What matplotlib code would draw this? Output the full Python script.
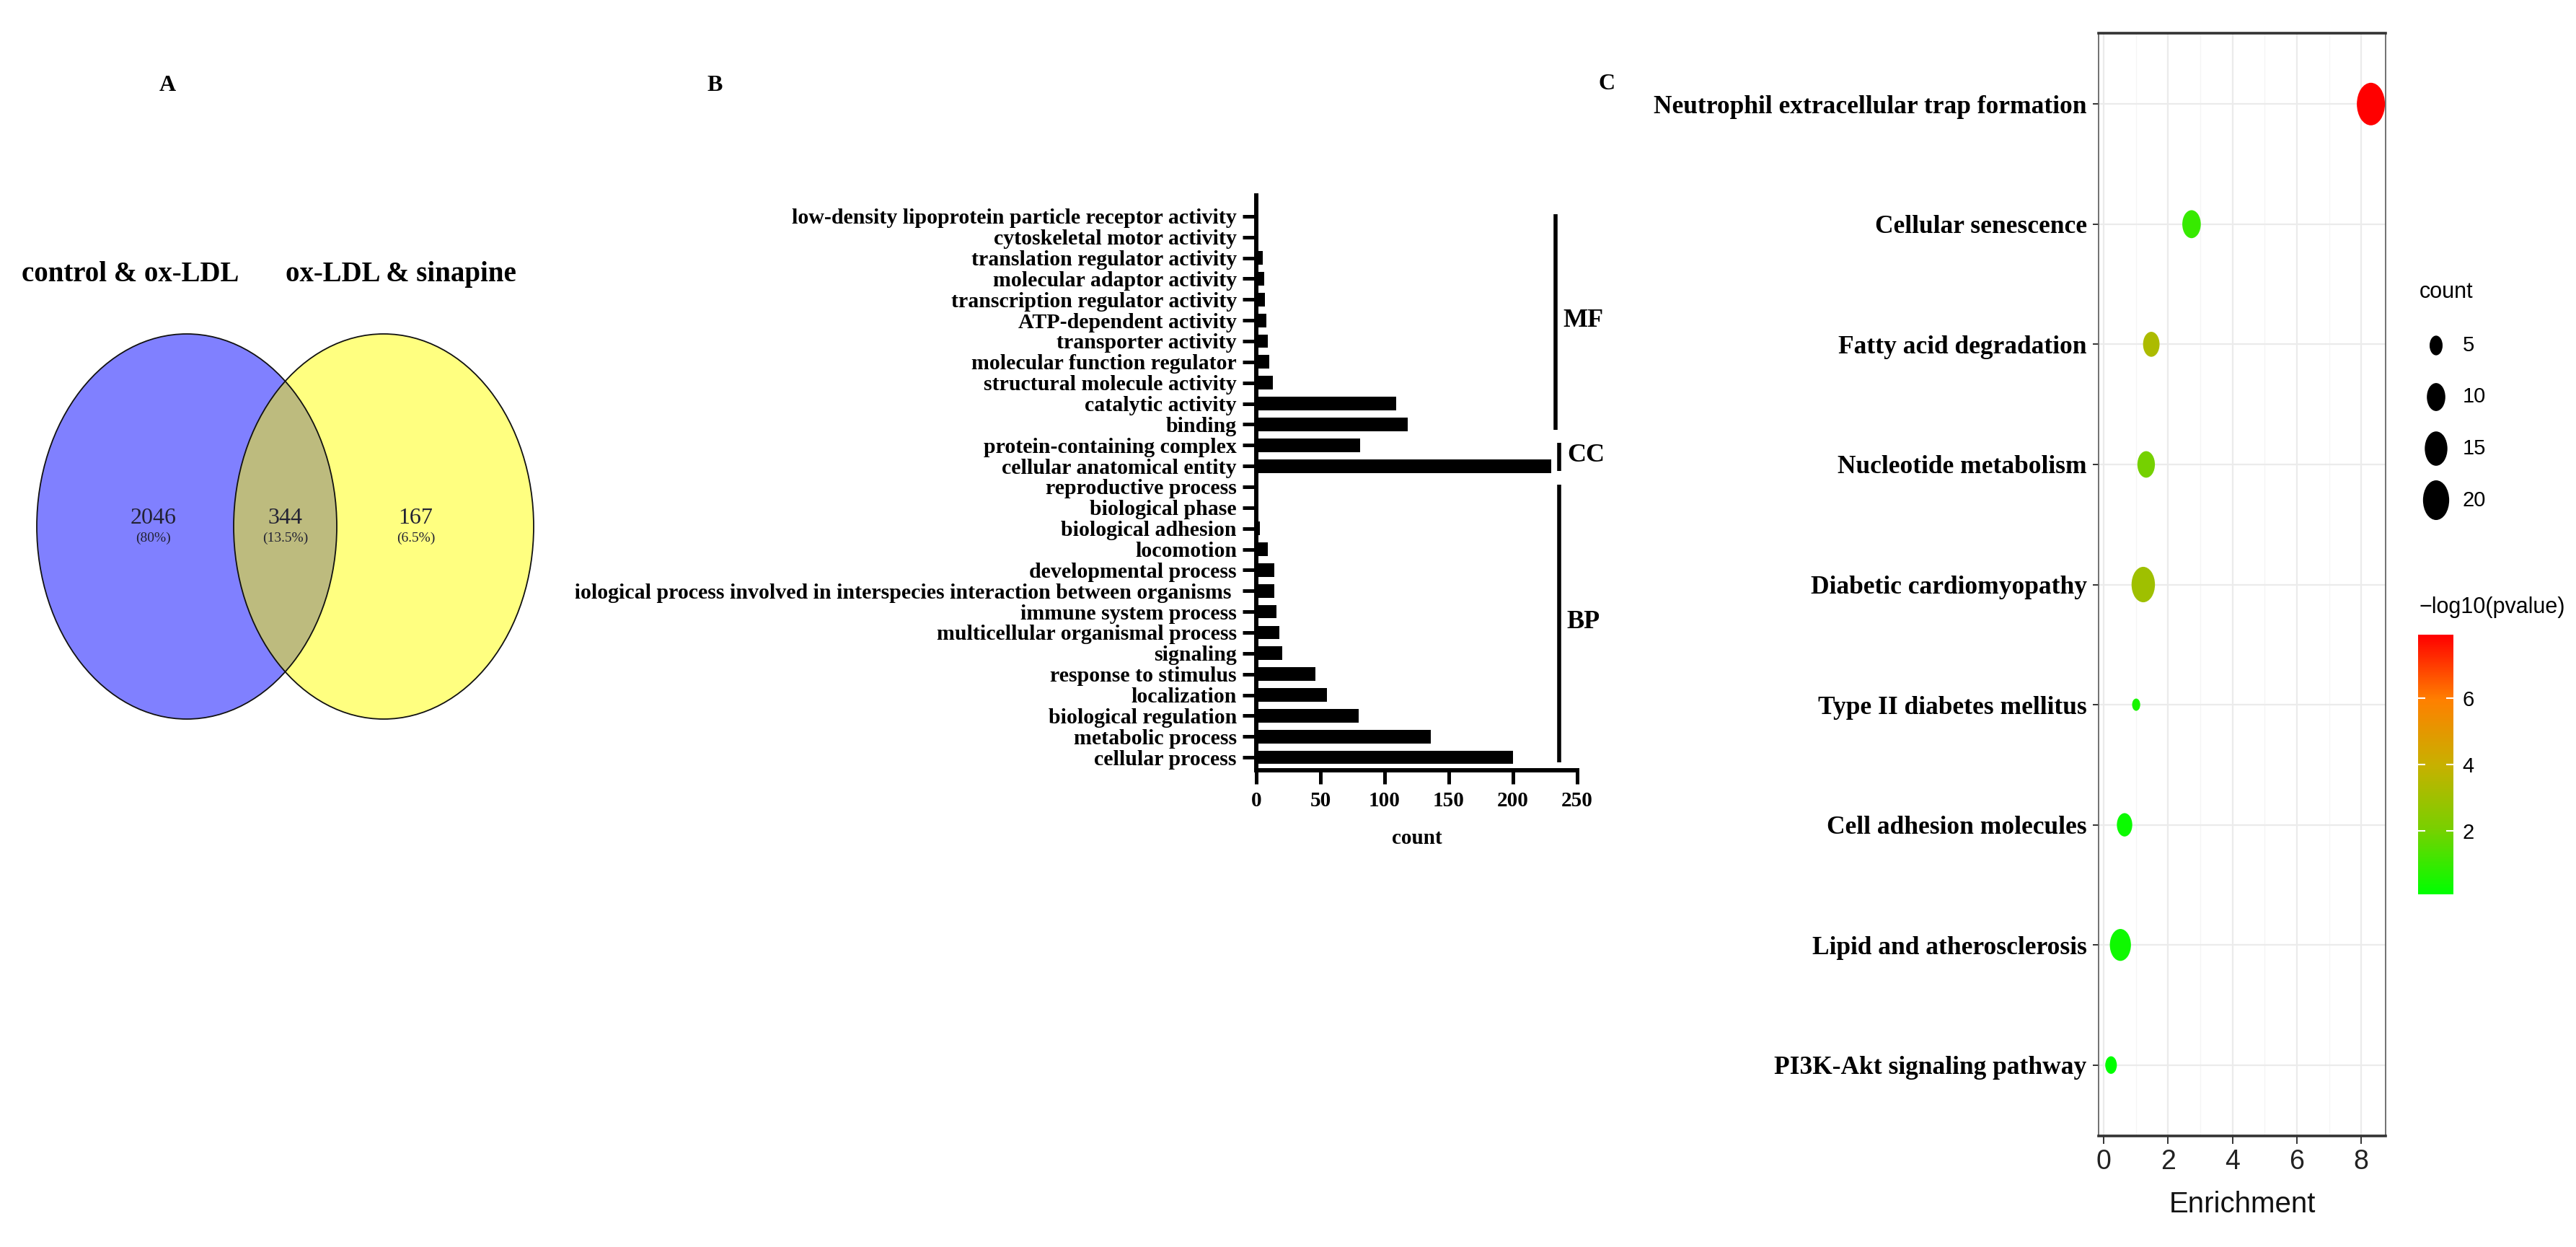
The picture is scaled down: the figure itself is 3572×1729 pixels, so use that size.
import numpy as np
import matplotlib
matplotlib.use("Agg")
import matplotlib.pyplot as plt
from matplotlib.patches import Ellipse
from matplotlib.path import Path
from matplotlib.colors import LinearSegmentedColormap, Normalize
from matplotlib.cm import ScalarMappable
from matplotlib.transforms import Bbox

# ---------------- data ----------------
venn_sets = ["control & ox-LDL", "ox-LDL & sinapine"]
venn_counts = [2046, 344, 167]  # left only, shared, right only

go_terms = [
    "low-density lipoprotein particle receptor activity",
    "cytoskeletal motor activity",
    "translation regulator activity",
    "molecular adaptor activity",
    "transcription regulator activity",
    "ATP-dependent activity",
    "transporter activity",
    "molecular function regulator",
    "structural molecule activity",
    "catalytic activity",
    "binding",
    "protein-containing complex",
    "cellular anatomical entity",
    "reproductive process",
    "biological phase",
    "biological adhesion",
    "locomotion",
    "developmental process",
    "biological process involved in interspecies interaction between organisms ",
    "immune system process",
    "multicellular organismal process",
    "signaling",
    "response to stimulus",
    "localization",
    "biological regulation",
    "metabolic process",
    "cellular process",
]
go_counts = [1, 1, 5, 6, 7, 8, 9, 10, 13, 109, 118, 81, 230,
             1, 1, 3, 9, 14, 14, 16, 18, 20, 46, 55, 80, 136, 200]
go_groups = ["MF"] * 11 + ["CC"] * 2 + ["BP"] * 14

kegg_terms = [
    "Neutrophil extracellular trap formation",
    "Cellular senescence",
    "Fatty acid degradation",
    "Nucleotide metabolism",
    "Diabetic cardiomyopathy",
    "Type II diabetes mellitus",
    "Cell adhesion molecules",
    "Lipid and atherosclerosis",
    "PI3K-Akt signaling pathway",
]
kegg_enrich = [8.3, 2.73, 1.48, 1.32, 1.23, 1.01, 0.65, 0.52, 0.23]
kegg_count = [23, 10, 8, 9, 16, 2, 7, 13, 4]
kegg_logp = [7.9, 1.0, 3.3, 2.0, 3.0, 0.5, 0.3, 0.35, 0.09]
legend_counts = [5, 10, 15, 20]

# ---------------- figure ----------------
W, H = 3573, 1729
fig = plt.figure(figsize=(W / 100, H / 100), dpi=100)
plt.rcParams["font.family"] = "Liberation Serif"
sans = ["Liberation Sans Narrow", "Liberation Sans", "DejaVu Sans"]

def fx(x):
    return x / W

def fy(y):
    return 1 - y / H

# overlay axes in pixel units for Venn, panel letters and legend
ax0 = fig.add_axes([0, 0, 1, 1], zorder=-1)
ax0.set_xlim(0, W)
ax0.set_ylim(H, 0)
ax0.axis("off")

for letter, x, y in [("A", 232, 118), ("B", 991, 118), ("C", 2228, 116)]:
    ax0.text(x, y, letter, fontsize=23, fontweight="bold", ha="center", va="center")

# ---------------- A: Venn ----------------
cy, ew, eh = 730, 416, 534
left_c, right_c = 259, 532
e_left = Ellipse((left_c, cy), ew, eh, facecolor="#8080FF", edgecolor="none")
e_right = Ellipse((right_c, cy), ew, eh, facecolor="#FFFF80", edgecolor="none")
ax0.add_patch(e_left)
ax0.add_patch(e_right)
e_mid = Ellipse((right_c, cy), ew, eh, facecolor="#BDBB7E", edgecolor="none")
ax0.add_patch(e_mid)
e_mid.set_clip_path(e_left)
for c in (left_c, right_c):
    ax0.add_patch(Ellipse((c, cy), ew, eh, facecolor="none", edgecolor="#111111", lw=1.3))

total = sum(venn_counts)
ov_l, ov_r = right_c - ew / 2, left_c + ew / 2
num_x = [(left_c - ew / 2 + ov_l) / 2 + 25, (ov_l + ov_r) / 2, (ov_r + right_c + ew / 2) / 2 - 27]
for x, n in zip(num_x, venn_counts):
    pct = f"{100 * n / total:.1f}".rstrip("0").rstrip(".")
    ax0.text(x, cy - 12, str(n), fontsize=23, ha="center", va="center", color="#222233")
    ax0.text(x, cy + 16, f"({pct}%)", fontsize=14, ha="center", va="center", color="#222233")
for x, name in zip([181, 556], venn_sets):
    ax0.text(x, 380, name, fontsize=28, fontweight="bold", ha="center", va="center")

# ---------------- B: GO bar chart ----------------
axb = fig.add_axes([fx(1742), fy(1068), 445 / W, 797 / H])
pos = np.arange(len(go_terms))
axb.barh(pos, go_counts, height=0.65, color="black")
axb.set_xlim(0, 250)
axb.set_ylim(len(go_terms) - 0.38, -1.0)
axb.set_xticks([0, 50, 100, 150, 200, 250])
axb.set_yticks(pos)
axb.set_yticklabels(go_terms, fontsize=21.5, fontweight="bold")
for lab in axb.get_xticklabels():
    lab.set_fontweight("bold")
# the panel is cut at its left edge, so the longest label is clipped there
clip = Bbox.from_extents(798, 0, W, H)
for lab in axb.get_yticklabels():
    lab.set_clip_box(clip)
    lab.set_clip_on(True)
axb.tick_params(axis="y", length=13.5, width=3.6, pad=6)
axb.tick_params(axis="x", length=14, width=3.6, pad=7, labelsize=21)
axb.spines[["top", "right"]].set_visible(False)
axb.spines[["left", "bottom"]].set_linewidth(4.3)
axb.set_xlabel("count", fontsize=21, fontweight="bold", labelpad=18)

groups = ["MF", "CC", "BP"]
for g in groups:
    idx = [i for i, gg in enumerate(go_groups) if gg == g]
    xl = 233 if g == "MF" else 236
    axb.plot([xl, xl], [idx[0] - 0.1, idx[-1] + 0.25], color="black", lw=4,
             clip_on=False, solid_capstyle="butt")
    axb.text(xl + 6, np.mean(idx), g, fontsize=26, fontweight="bold",
             ha="left", va="center", clip_on=False)

# ---------------- C: KEGG dot plot ----------------
axd = fig.add_axes([fx(2910), fy(1575), 398 / W, 1529 / H])
n = len(kegg_terms)
ypos = np.arange(n)[::-1] + 1

cmin, cmax = min(kegg_count), max(kegg_count)
d_min, d_max = 17, 59  # pixel diameters of smallest / largest dot

def dot_size(c):
    d = np.sqrt(d_min ** 2 + (np.asarray(c) - cmin) / (cmax - cmin) * (d_max ** 2 - d_min ** 2))
    return (d * 0.72) ** 2

circ = Path.unit_circle()
oval = Path(circ.vertices * np.array([0.66, 1.0]), circ.codes)

cmap = LinearSegmentedColormap.from_list(
    "", ["#00FF00", "#78D000", "#C8B000", "#FF8000", "#FF0000"])
norm = Normalize(min(kegg_logp), max(kegg_logp))

axd.scatter(kegg_enrich, ypos, s=dot_size(kegg_count), c=kegg_logp, cmap=cmap,
            norm=norm, marker=oval, linewidths=0, zorder=3)
axd.set_xlim(-0.157, 8.757)
axd.set_ylim(0.41, n + 0.59)
axd.set_xticks([0, 2, 4, 6, 8])
axd.set_xticks([1, 3, 5, 7], minor=True)
axd.set_yticks(ypos)
axd.set_yticklabels(kegg_terms, fontsize=25.5, fontweight="bold")
for lab in axd.get_xticklabels():
    lab.set_family(sans)
axd.grid(which="major", color="#EBEBEB", lw=1.6)
axd.grid(which="minor", axis="x", color="#F5F5F5", lw=1.0)
axd.set_axisbelow(True)
axd.tick_params(which="minor", length=0)
axd.tick_params(axis="y", length=5.8, width=1.4, color="#333333", pad=6)
axd.tick_params(axis="x", length=8, width=1.4, color="#333333", pad=5,
                labelsize=27, labelcolor="#222222")
axd.spines[["top", "bottom"]].set_linewidth(2.6)
axd.spines[["top", "bottom"]].set_color("#333333")
axd.spines[["left", "right"]].set_linewidth(1.3)
axd.spines[["left", "right"]].set_color("#666666")
axd.set_xlabel("Enrichment", fontsize=29, family=sans, labelpad=16, color="#111111")

# size legend
ax0.text(3355, 405, "count", fontsize=22, family=sans, ha="left", va="center")
leg_y = 479 + 71.5 * np.arange(len(legend_counts))
ax0.scatter(np.full(len(legend_counts), 3378), leg_y, s=dot_size(legend_counts),
            c="black", marker=oval, linewidths=0)
for yy, c in zip(leg_y, legend_counts):
    ax0.text(3415, yy, str(c), fontsize=21, family=sans, ha="left", va="center")

# colour bar
ax0.text(3355, 842, "\u2212log10(pvalue)", fontsize=22, family=sans, ha="left", va="center")
cax = fig.add_axes([fx(3353), fy(1240), 49 / W, 360 / H])
cb = fig.colorbar(ScalarMappable(norm=norm, cmap=cmap), cax=cax)
cb.outline.set_visible(False)
cb.set_ticks([2, 4, 6])
cax.tick_params(direction="in", color="white", width=1.5, length=7, left=True,
                right=True, labelsize=21, pad=9)
for lab in cax.get_yticklabels():
    lab.set_family(sans)

fig.savefig("out.png", dpi=100)
